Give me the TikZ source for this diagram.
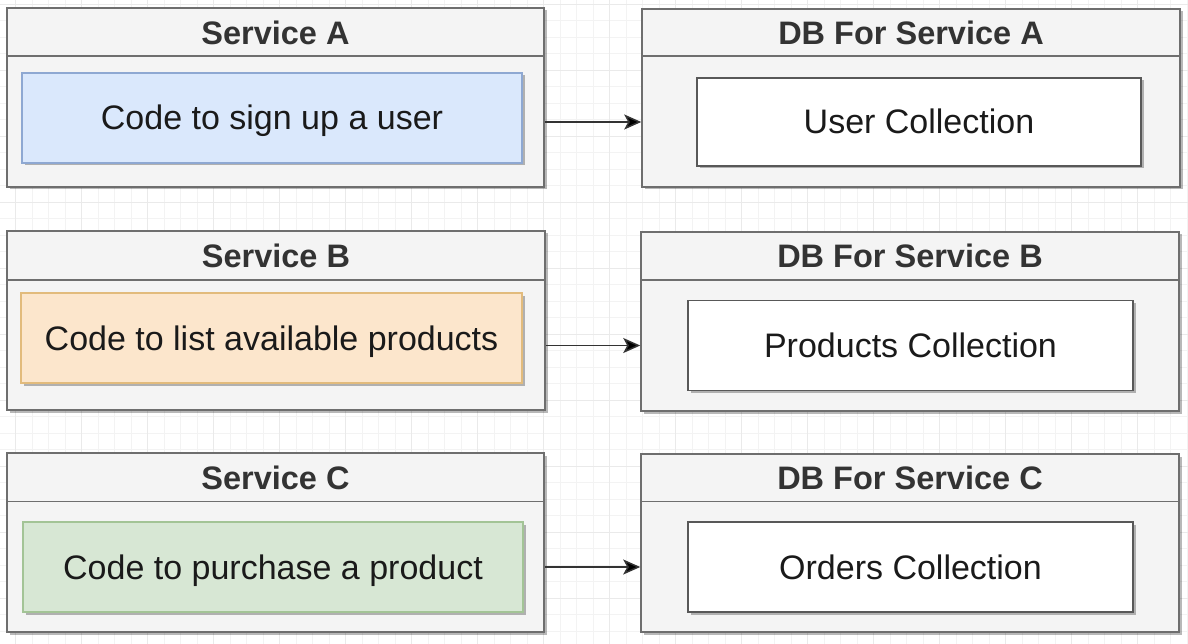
\documentclass[tikz,border=0pt]{standalone}
\usepackage{fontspec}
\setmainfont{Liberation Sans}
\usetikzlibrary{shadows,arrows.meta}
\definecolor{contfill}{HTML}{F4F4F4}
\definecolor{contline}{HTML}{6E6E6E}
\definecolor{bluefill}{HTML}{DAE8FC}
\definecolor{blueline}{HTML}{8EA8D2}
\definecolor{orangefill}{HTML}{FCE6CC}
\definecolor{orangeline}{HTML}{E2BB7C}
\definecolor{greenfill}{HTML}{D7E7D4}
\definecolor{greenline}{HTML}{A3C496}
\definecolor{titlecol}{HTML}{333333}
\definecolor{textcol}{HTML}{1A1A1A}
\definecolor{gridminor}{HTML}{F3F3F3}
\definecolor{gridmajor}{HTML}{EAEAEA}
\tikzset{
  shad/.style={drop shadow={shadow xshift=2.5pt,shadow yshift=-2.5pt,fill=black,opacity=0.28}},
  container/.style={draw=contline,fill=contfill,line width=1.5pt,inner sep=0pt,shad},
  innerbox/.style={line width=1.3pt,inner sep=0pt,shad,text=textcol,
    font=\fontsize{34}{40}\selectfont,text height=30.5pt,text depth=6.5pt},
  titletext/.style={inner sep=0pt,text=titlecol,font=\fontsize{32.5}{38}\selectfont\bfseries},
  divider/.style={draw=contline,line width=1.5pt},
  arr/.style={draw=black!80,line width=1.5pt,-{Stealth[length=17pt,width=15pt,inset=4pt,fill=black]}},
}
\begin{document}
\begin{tikzpicture}[x=1pt,y=-1pt]
\useasboundingbox (0,0) rectangle (1188,644);
\fill[white] (0,0) rectangle (1188,644);
% background grid
\foreach \i in {0,...,72} {
  \pgfmathsetmacro{\gx}{15.5+16.5*\i}
  \draw[gridminor,line width=0.8pt] (\gx,0) -- (\gx,644);
}
\foreach \i in {0,...,39} {
  \pgfmathsetmacro{\gy}{4+16.5*\i}
  \draw[gridminor,line width=0.8pt] (0,\gy) -- (1188,\gy);
}
\foreach \i in {0,...,18} {
  \pgfmathsetmacro{\gx}{15.5+66*\i}
  \draw[gridmajor,line width=0.8pt] (\gx,0) -- (\gx,644);
}
\foreach \i in {0,...,10} {
  \pgfmathsetmacro{\gy}{4+66*\i}
  \draw[gridmajor,line width=0.8pt] (0,\gy) -- (1188,\gy);
}

% ---- Row A ----
\node[container,minimum width=537pt,minimum height=179pt] (sa) at (275.5,97.5) {};
\draw[divider] ([yshift=-49pt]sa.north west) -- ([yshift=-49pt]sa.north east);
\node[titletext] (sat) at (275.5,33) {Service A};
\node[innerbox,draw=blueline,fill=bluefill,minimum width=500pt,minimum height=90pt] (ca) at (272,118) {Code to sign up a user};

\node[container,minimum width=538pt,minimum height=178pt] (dba) at (911,98) {};
\draw[divider] ([yshift=-48pt]dba.north west) -- ([yshift=-48pt]dba.north east);
\node[titletext] (dbat) at (911,33) {DB For Service A};
\node[innerbox,draw=contline!80!black,fill=white,minimum width=444pt,minimum height=88pt] (dbai) at (919,122) {User Collection};

% ---- Row B ----
\node[container,minimum width=538pt,minimum height=179pt] (sb) at (276,320.5) {};
\draw[divider] ([yshift=-50pt]sb.north west) -- ([yshift=-50pt]sb.north east);
\node[titletext] (sbt) at (276,256) {Service B};
\node[innerbox,draw=orangeline,fill=orangefill,minimum width=501pt,minimum height=90pt] (cb) at (271.5,338) {Code to list available products};

\node[container,minimum width=538pt,minimum height=179pt] (dbb) at (910,321.5) {};
\draw[divider] ([yshift=-49pt]dbb.north west) -- ([yshift=-49pt]dbb.north east);
\node[titletext] (dbbt) at (910,256) {DB For Service B};
\node[innerbox,draw=contline!80!black,fill=white,minimum width=445pt,minimum height=90pt] (dbbi) at (910.5,345.5) {Products Collection};

% ---- Row C ----
\node[container,minimum width=537pt,minimum height=179pt] (sc) at (275.5,542.5) {};
\draw[divider] ([yshift=-49pt]sc.north west) -- ([yshift=-49pt]sc.north east);
\node[titletext] (sct) at (275.5,478) {Service C};
\node[innerbox,draw=greenline,fill=greenfill,minimum width=500pt,minimum height=90pt] (cc) at (273,567) {Code to purchase a product};

\node[container,minimum width=538pt,minimum height=178pt] (dbc) at (910,543) {};
\draw[divider] ([yshift=-48pt]dbc.north west) -- ([yshift=-48pt]dbc.north east);
\node[titletext] (dbct) at (910,478) {DB For Service C};
\node[innerbox,draw=contline!80!black,fill=white,minimum width=445pt,minimum height=90pt] (dbci) at (910.5,567) {Orders Collection};

% ---- connectors ----
\draw[arr] (sa.east |- dbai.center) -- (dba.west |- dbai.center);
\draw[arr] (sb.east |- dbbi.center) -- (dbb.west |- dbbi.center);
\draw[arr] (sc.east |- dbci.center) -- (dbc.west |- dbci.center);
\end{tikzpicture}
\end{document}
